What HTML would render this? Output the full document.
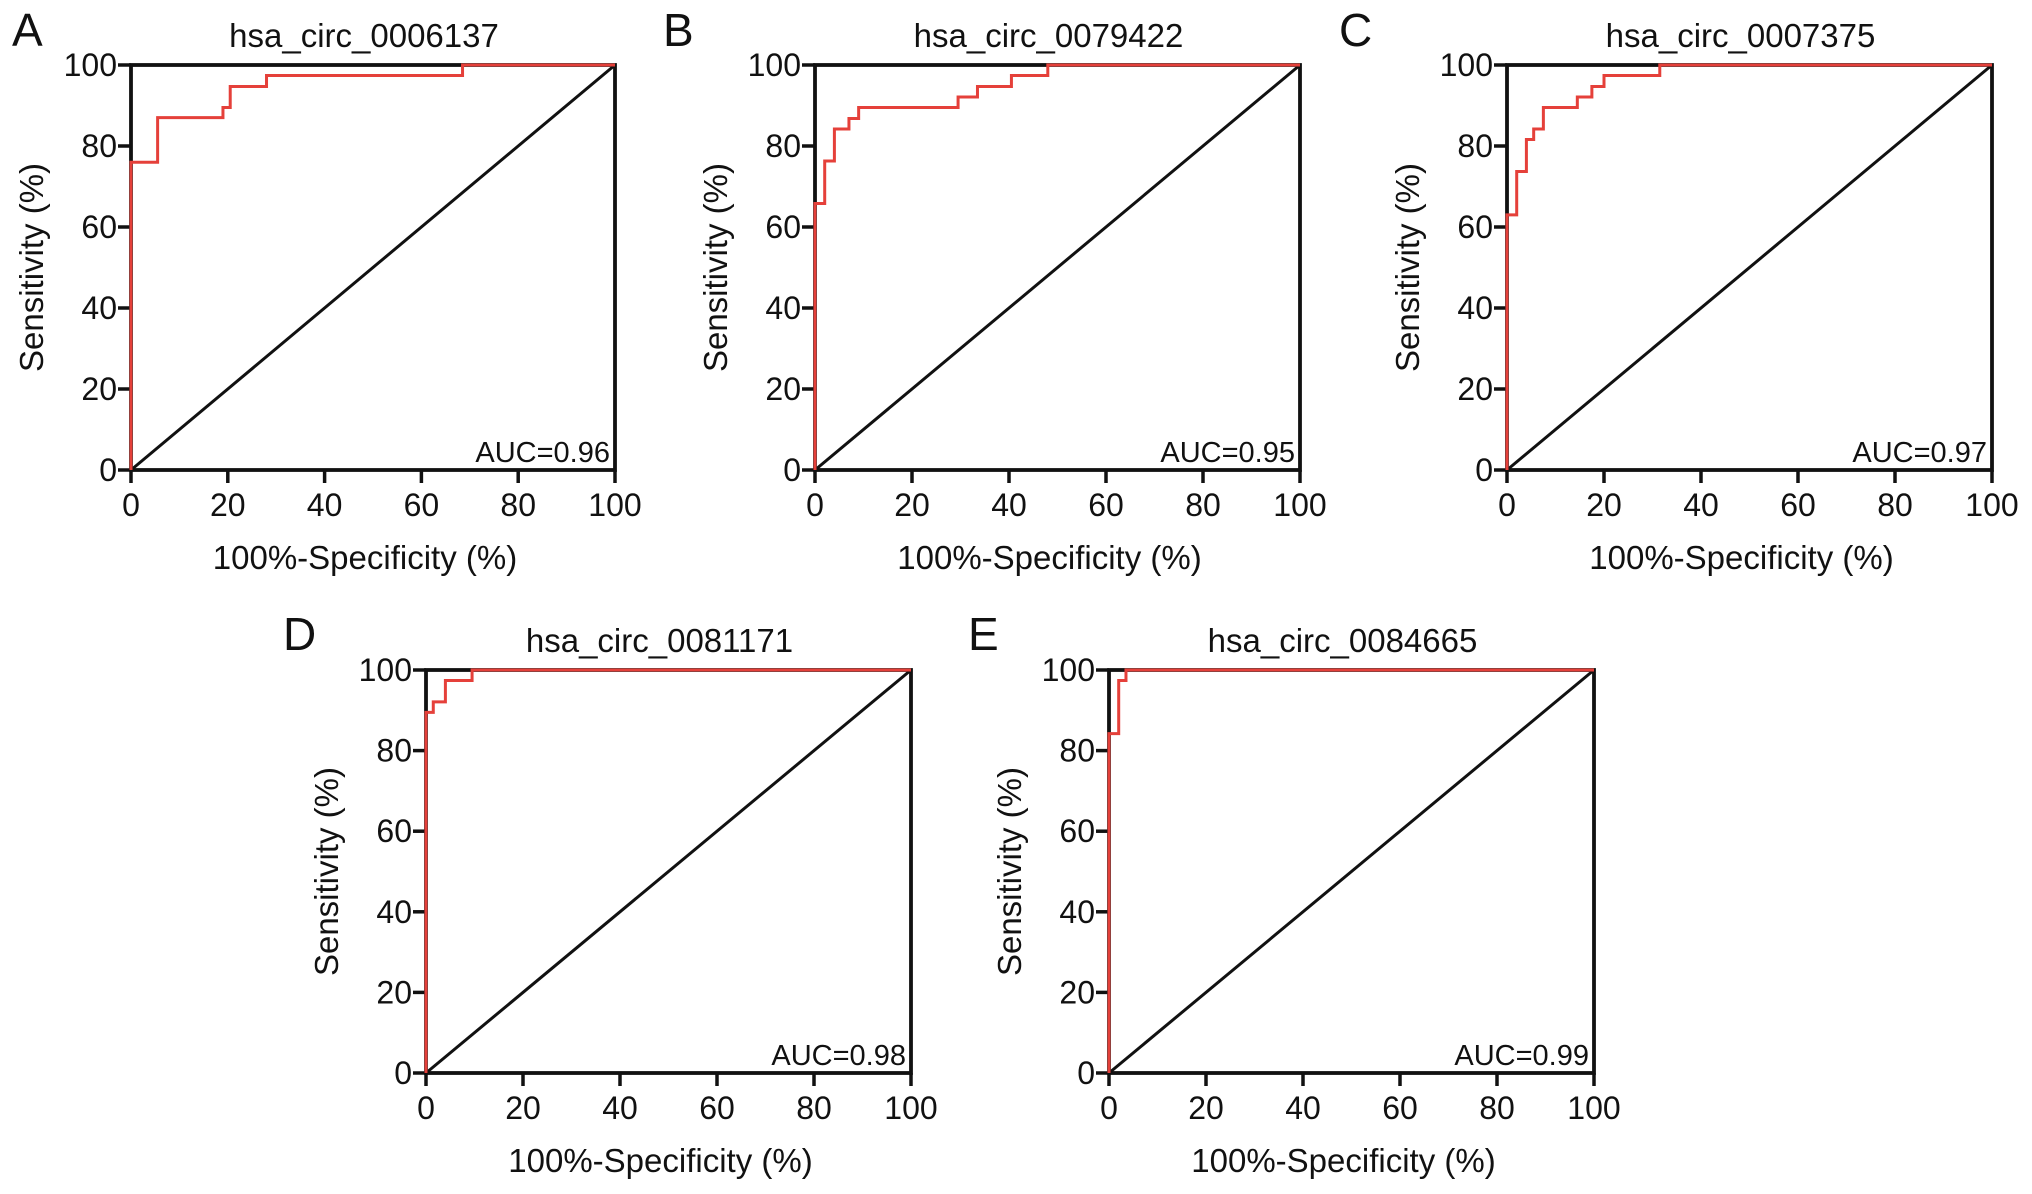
<!DOCTYPE html>
<html><head><meta charset="utf-8"><style>
html,body{margin:0;padding:0;background:#fff;}
svg{display:block;font-family:"Liberation Sans",Arial,sans-serif;}
</style></head><body>
<svg id="fig" width="2032" height="1194" viewBox="0 0 2032 1194" xmlns="http://www.w3.org/2000/svg"></svg>
<script>
const panelLetters = ["A","B","C","D","E"];
const panelTitles = ["hsa_circ_0006137","hsa_circ_0079422","hsa_circ_0007375","hsa_circ_0081171","hsa_circ_0084665"];
const aucLabels = ["AUC=0.96","AUC=0.95","AUC=0.97","AUC=0.98","AUC=0.99"];
const tickValues = [0,20,40,60,80,100];
const fprA = [0,0,5.5,5.5,19,19,20.5,20.5,28,28,68.5,68.5,100];
const tprA = [0,76,76,87,87,89.5,89.5,94.7,94.7,97.4,97.4,100,100];
const fprB = [0,0,2,2,4,4,7,7,9,9,29.5,29.5,33.5,33.5,40.5,40.5,48,48,100];
const tprB = [0,65.8,65.8,76.3,76.3,84.2,84.2,86.8,86.8,89.5,89.5,92.1,92.1,94.7,94.7,97.4,97.4,100,100];
const fprC = [0,0,2,2,4,4,5.5,5.5,7.5,7.5,14.5,14.5,17.5,17.5,20,20,31.5,31.5,100];
const tprC = [0,63,63,73.7,73.7,81.6,81.6,84.2,84.2,89.5,89.5,92.1,92.1,94.7,94.7,97.4,97.4,100,100];
const fprD = [0,0,1.5,1.5,4,4,9.5,9.5,100];
const tprD = [0,89.5,89.5,92.1,92.1,97.4,97.4,100,100];
const fprE = [0,0,2,2,3.5,3.5,100];
const tprE = [0,84.2,84.2,97.4,97.4,100,100];
const fprs = [fprA,fprB,fprC,fprD,fprE];
const tprs = [tprA,tprB,tprC,tprD,tprE];

const layout = [
  {x0:131,x1:615,y0:65,y1:470,lx:12,ly:46},
  {x0:815,x1:1300,y0:65,y1:470,lx:663,ly:46},
  {x0:1507,x1:1992,y0:65,y1:470,lx:1339,ly:46},
  {x0:426,x1:911,y0:670,y1:1073,lx:283,ly:650},
  {x0:1109,x1:1594,y0:670,y1:1073,lx:968,ly:650}
];
const NS="http://www.w3.org/2000/svg";
const svg=document.getElementById('fig');
function mk(tag,attrs,parent){const e=document.createElementNS(NS,tag);for(const k in attrs)e.setAttribute(k,attrs[k]);(parent||svg).appendChild(e);return e;}

layout.forEach((L,i)=>{
  const g=mk('g',{});
  
  
  const sx=v=>L.x0+(L.x1-L.x0)*v/100;
  const sy=v=>L.y1-(L.y1-L.y0)*v/100;
  const cx=(L.x0+L.x1)/2, cy=(L.y0+L.y1)/2;
  const letter=mk('text',{x:L.lx,y:L.ly,'font-size':46,fill:'#111'},g);
  letter.textContent=panelLetters[i];
  
  
  const title=mk('text',{x:cx-9,y:47,'font-size':33,'text-anchor':'middle',fill:'#111'},g);
  if(i>=3) title.setAttribute('y',652);
  title.textContent=panelTitles[i];
  
  
  const diag=mk('line',{x1:sx(0),y1:sy(0),x2:sx(100),y2:sy(100),stroke:'#111','stroke-width':3},g);
  
  
  const frame=mk('rect',{x:L.x0,y:L.y0,width:L.x1-L.x0,height:L.y1-L.y0,fill:'none',stroke:'#111','stroke-width':3.8},g);
  
  
  tickValues.forEach(t=>{
    const yt=mk('line',{x1:L.x0-13,y1:sy(t),x2:L.x0,y2:sy(t),stroke:'#111','stroke-width':3.5},g);
    
    
    const yl=mk('text',{x:L.x0-14,y:sy(t)+11,'font-size':32,'text-anchor':'end',fill:'#111'},g);
    yl.textContent=t;
    
    
    const xt=mk('line',{x1:sx(t),y1:L.y1,x2:sx(t),y2:L.y1+13,stroke:'#111','stroke-width':3.5},g);
    
    
    const xl=mk('text',{x:sx(t),y:L.y1+46,'font-size':32,'text-anchor':'middle',fill:'#111'},g);
    xl.textContent=t;
    
    
  });
  const xa=mk('text',{x:cx-8,y:L.y1+99,'font-size':33,'text-anchor':'middle',fill:'#111'},g);
  xa.textContent='100%-Specificity (%)';
  
  
  const yx=L.x0-88;
  const ya=mk('text',{x:yx,y:cy,'font-size':33,'text-anchor':'middle',fill:'#111',transform:'rotate(-90 '+yx+' '+cy+')'},g);
  ya.textContent='Sensitivity (%)';
  
  
  const auc=mk('text',{x:L.x1-5,y:L.y1-8,'font-size':29,'text-anchor':'end',fill:'#111'},g);
  auc.textContent=aucLabels[i];
  
  
  const pts=fprs[i].map((f,k)=>sx(f)+','+sy(tprs[i][k])).join(' ');
  const roc=mk('polyline',{points:pts,fill:'none',stroke:'#e5403a','stroke-width':3,'stroke-linejoin':'miter'},g);
  
  
});
</script>
</body></html>
